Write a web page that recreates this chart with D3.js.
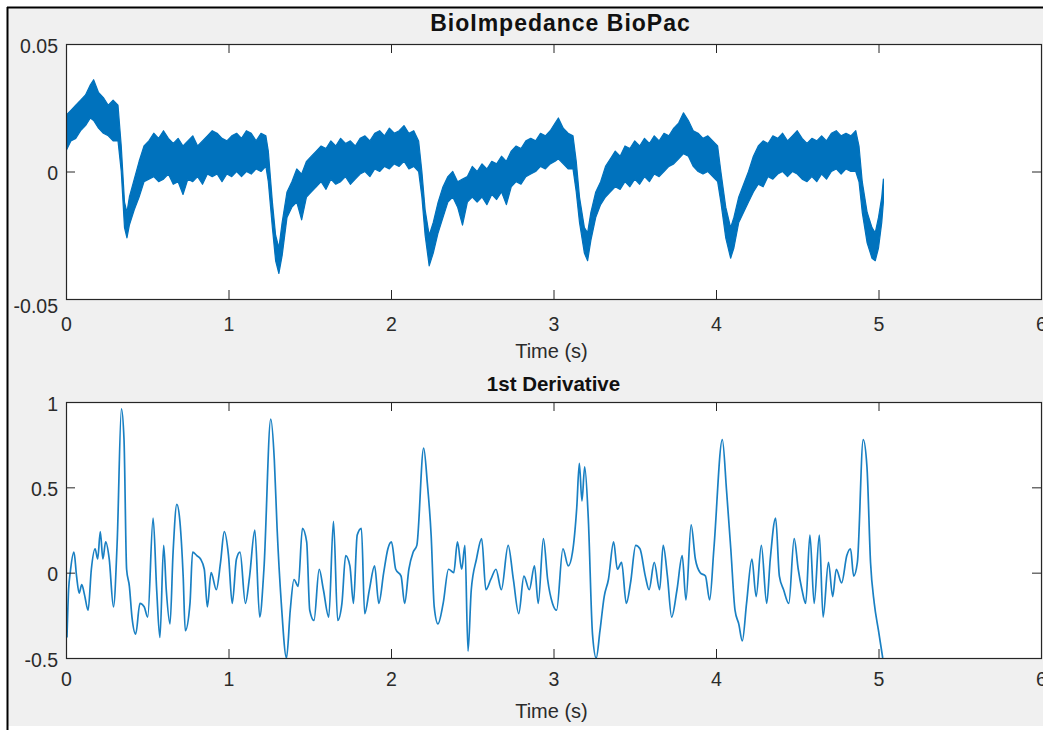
<!DOCTYPE html>
<html><head><meta charset="utf-8">
<script src="https://cdn.jsdelivr.net/npm/d3@7"></script>
<style>html,body{margin:0;padding:0;background:#fff;} svg{display:block;font-family:"Liberation Sans",Arial,Helvetica,sans-serif;}</style>
</head><body><svg id="chart" width="1043" height="730"></svg>
<script>
// ---------- data ----------
const xTicks = [0, 1, 2, 3, 4, 5, 6];
const xTickLabels = ["0", "1", "2", "3", "4", "5", "6"];
const bioYTicks = [-0.05, 0, 0.05];
const bioYTickLabels = ["-0.05", "0", "0.05"];
const derivYTicks = [-0.5, 0, 0.5, 1];
const derivYTickLabels = ["-0.5", "0", "0.5", "1"];
const titleTop = "BioImpedance BioPac";
const titleBottom = "1st Derivative";
const xLabel = "Time (s)";

// BioImpedance signal: noisy band, upper and lower envelope
const bioTime = [0.00,0.03,0.06,0.09,0.12,0.15,0.17,0.20,0.23,0.26,0.29,0.32,0.34,0.36,0.375,0.39,0.42,0.45,0.48,0.51,0.54,0.57,0.60,0.63,0.66,0.69,0.72,0.75,0.78,0.81,0.84,0.87,0.90,0.93,0.96,0.99,1.02,1.05,1.08,1.11,1.14,1.17,1.20,1.23,1.245,1.27,1.29,1.31,1.33,1.36,1.39,1.42,1.45,1.48,1.51,1.54,1.57,1.60,1.63,1.66,1.69,1.72,1.75,1.78,1.81,1.84,1.87,1.90,1.93,1.96,1.99,2.02,2.05,2.08,2.11,2.14,2.17,2.19,2.21,2.235,2.26,2.29,2.32,2.35,2.38,2.41,2.44,2.47,2.50,2.53,2.56,2.59,2.62,2.65,2.68,2.71,2.74,2.77,2.80,2.83,2.86,2.89,2.92,2.95,2.98,3.01,3.03,3.06,3.09,3.12,3.14,3.16,3.19,3.21,3.23,3.26,3.29,3.32,3.35,3.38,3.41,3.44,3.47,3.50,3.53,3.56,3.59,3.62,3.65,3.68,3.71,3.74,3.77,3.80,3.83,3.86,3.89,3.92,3.95,3.98,4.01,4.03,4.06,4.09,4.11,4.14,4.17,4.20,4.23,4.26,4.29,4.32,4.35,4.38,4.41,4.44,4.47,4.50,4.53,4.56,4.59,4.62,4.65,4.68,4.71,4.74,4.77,4.80,4.83,4.86,4.88,4.90,4.93,4.96,4.98,5.00,5.02,5.03];
const bioUpper = [0.022,0.024,0.026,0.028,0.030,0.034,0.036,0.031,0.029,0.026,0.028,0.026,0.010,-0.012,-0.016,-0.010,-0.003,0.004,0.010,0.012,0.015,0.013,0.016,0.013,0.011,0.013,0.010,0.012,0.014,0.010,0.012,0.014,0.016,0.015,0.013,0.012,0.014,0.015,0.013,0.016,0.015,0.012,0.015,0.014,0.008,-0.012,-0.025,-0.030,-0.020,-0.008,-0.004,0.001,-0.001,0.004,0.006,0.008,0.010,0.009,0.012,0.010,0.013,0.011,0.012,0.010,0.013,0.014,0.012,0.015,0.016,0.014,0.017,0.015,0.016,0.018,0.015,0.016,0.012,0.000,-0.015,-0.025,-0.020,-0.012,-0.006,-0.002,0.000,-0.004,-0.003,-0.002,0.002,0.000,0.003,0.001,0.004,0.003,0.006,0.004,0.008,0.010,0.009,0.012,0.013,0.012,0.015,0.014,0.016,0.019,0.021,0.017,0.015,0.014,0.004,-0.010,-0.022,-0.024,-0.016,-0.008,-0.004,0.002,0.005,0.008,0.006,0.010,0.009,0.012,0.010,0.013,0.011,0.014,0.012,0.015,0.014,0.017,0.019,0.023,0.020,0.016,0.015,0.013,0.014,0.012,0.010,0.000,-0.014,-0.022,-0.018,-0.010,-0.005,0.000,0.006,0.010,0.012,0.011,0.014,0.013,0.015,0.012,0.014,0.016,0.013,0.011,0.013,0.012,0.014,0.012,0.015,0.016,0.014,0.015,0.014,0.016,0.010,-0.004,-0.016,-0.022,-0.024,-0.018,-0.010,-0.003];
const bioLower = [0.008,0.012,0.013,0.016,0.018,0.021,0.020,0.017,0.015,0.014,0.012,0.012,0.000,-0.022,-0.026,-0.021,-0.015,-0.010,-0.004,-0.003,-0.002,-0.004,-0.003,-0.001,-0.005,-0.004,-0.009,-0.003,-0.004,-0.002,-0.005,-0.001,-0.002,-0.001,-0.004,-0.001,-0.002,0.000,-0.002,0.000,-0.001,0.001,0.000,0.002,-0.004,-0.022,-0.035,-0.040,-0.033,-0.018,-0.014,-0.012,-0.019,-0.010,-0.008,-0.006,-0.004,-0.007,-0.003,-0.005,-0.004,-0.002,-0.005,-0.003,-0.001,0.000,-0.002,0.001,0.000,0.002,0.001,0.003,0.002,0.004,0.001,0.002,0.000,-0.010,-0.025,-0.037,-0.032,-0.024,-0.018,-0.012,-0.010,-0.014,-0.021,-0.012,-0.010,-0.012,-0.010,-0.013,-0.009,-0.011,-0.008,-0.013,-0.006,-0.004,-0.005,-0.002,-0.001,0.000,0.002,0.001,0.003,0.004,0.005,0.003,0.001,0.001,-0.008,-0.020,-0.032,-0.035,-0.027,-0.018,-0.013,-0.010,-0.008,-0.006,-0.007,-0.004,-0.006,-0.003,-0.005,-0.002,-0.004,-0.001,-0.002,0.000,0.002,0.003,0.005,0.007,0.006,0.002,0.000,-0.001,0.000,-0.002,-0.004,-0.012,-0.026,-0.034,-0.030,-0.020,-0.016,-0.012,-0.008,-0.005,-0.006,-0.002,-0.003,-0.001,0.000,-0.002,0.000,-0.001,-0.003,-0.004,-0.002,-0.004,-0.001,-0.003,0.000,0.001,-0.001,0.001,0.000,0.000,-0.004,-0.016,-0.028,-0.034,-0.035,-0.030,-0.020,-0.012];

// 1st derivative signal
const derivTime = [0.006,0.016,0.026,0.049,0.065,0.081,0.097,0.114,0.136,0.156,0.179,0.195,0.211,0.227,0.244,0.266,0.292,0.315,0.341,0.357,0.373,0.390,0.406,0.429,0.455,0.481,0.503,0.536,0.558,0.578,0.601,0.617,0.640,0.659,0.682,0.701,0.721,0.734,0.763,0.779,0.805,0.828,0.851,0.870,0.893,0.925,0.951,0.974,1.000,1.023,1.049,1.071,1.104,1.130,1.162,1.192,1.218,1.260,1.282,1.299,1.325,1.357,1.380,1.403,1.429,1.455,1.481,1.500,1.526,1.558,1.584,1.617,1.646,1.672,1.698,1.721,1.747,1.769,1.792,1.818,1.838,1.867,1.899,1.925,1.955,1.981,2.003,2.029,2.062,2.084,2.110,2.136,2.159,2.201,2.224,2.247,2.266,2.289,2.321,2.354,2.386,2.409,2.435,2.455,2.474,2.494,2.526,2.558,2.584,2.614,2.646,2.679,2.721,2.753,2.786,2.818,2.851,2.883,2.906,2.938,2.964,2.994,3.019,3.058,3.091,3.117,3.143,3.159,3.175,3.192,3.214,3.240,3.263,3.286,3.312,3.338,3.370,3.393,3.419,3.448,3.474,3.506,3.532,3.565,3.588,3.620,3.653,3.675,3.701,3.727,3.760,3.792,3.815,3.847,3.873,3.903,3.935,3.961,3.987,4.039,4.065,4.091,4.117,4.140,4.162,4.188,4.221,4.247,4.279,4.312,4.334,4.367,4.390,4.416,4.448,4.481,4.506,4.529,4.552,4.578,4.604,4.636,4.659,4.692,4.718,4.740,4.773,4.805,4.828,4.847,4.870,4.906,4.929,4.951,4.974,5.000,5.026];
const derivValue = [-0.38,-0.10,0.00,0.12,-0.02,-0.12,-0.07,-0.13,-0.22,0.02,0.14,0.08,0.24,0.08,0.18,0.08,-0.20,0.18,0.96,0.78,0.02,-0.08,-0.26,-0.36,-0.18,-0.20,-0.26,0.32,-0.10,-0.38,0.16,-0.10,-0.30,0.12,0.40,0.30,-0.02,-0.34,-0.18,0.12,0.10,0.08,0.02,-0.20,0.00,-0.10,0.06,0.24,0.10,-0.18,0.08,0.12,-0.18,-0.02,0.25,-0.26,0.02,0.90,0.66,0.26,-0.18,-0.50,-0.22,-0.04,-0.08,0.26,0.18,-0.22,-0.28,0.02,-0.10,-0.26,0.30,-0.28,-0.18,0.10,0.04,-0.18,0.22,0.26,-0.24,-0.10,0.04,-0.18,0.00,0.14,0.18,0.02,-0.02,-0.18,0.02,0.12,0.16,0.73,0.52,0.22,-0.20,-0.30,-0.18,0.02,0.00,0.18,0.02,0.16,-0.46,-0.10,0.08,0.20,-0.10,-0.04,0.02,-0.10,0.16,-0.04,-0.24,-0.02,-0.10,0.04,-0.18,0.20,-0.04,-0.18,-0.22,0.14,0.04,0.12,0.38,0.64,0.42,0.62,0.32,-0.36,-0.50,-0.34,-0.14,-0.04,0.18,0.02,0.06,-0.18,-0.06,0.16,0.14,-0.02,-0.10,0.06,-0.10,0.16,-0.02,-0.26,-0.10,0.10,-0.16,0.28,0.08,0.00,-0.02,-0.16,0.14,0.78,0.48,0.14,-0.22,-0.30,-0.40,-0.18,0.08,-0.14,0.16,-0.18,0.08,0.32,-0.02,-0.10,-0.18,0.20,0.02,-0.10,-0.18,0.22,-0.18,0.22,-0.26,0.06,-0.14,0.02,-0.06,0.10,0.14,-0.02,0.06,0.78,0.62,0.06,-0.18,-0.34,-0.50];

// ---------- drawing ----------
const svg = d3.select("#chart");
const W = 1043, H = 730;
const LINE = "#0072BD", AX = "#262626", TXT = "#2b2b2b";

svg.append("rect").attr("width", W).attr("height", H).attr("fill", "#ffffff");
svg.append("rect").attr("x", 8).attr("y", 8).attr("width", W - 8).attr("height", 718).attr("fill", "#f0f0f0");
svg.append("line").attr("x1", 7).attr("x2", W).attr("y1", 7.5).attr("y2", 7.5).attr("stroke", "#000").attr("stroke-width", 2);
svg.append("line").attr("x1", 7.5).attr("x2", 7.5).attr("y1", 7).attr("y2", H).attr("stroke", "#000").attr("stroke-width", 2);

function panel(cfg) {
  const g = svg.append("g");
  const x = d3.scaleLinear().domain([0, 6]).range([cfg.left, cfg.right]);
  const y = d3.scaleLinear().domain(cfg.yDomain).range([cfg.bottom, cfg.top]);
  const id = "clip" + cfg.name;
  svg.append("clipPath").attr("id", id).append("rect")
    .attr("x", cfg.left).attr("y", cfg.top).attr("width", cfg.right - cfg.left).attr("height", cfg.bottom - cfg.top);
  g.append("rect").attr("x", cfg.left).attr("y", cfg.top)
    .attr("width", cfg.right - cfg.left).attr("height", cfg.bottom - cfg.top).attr("fill", "#fff");

  const plot = g.append("g").attr("clip-path", `url(#${id})`);
  cfg.draw(plot, x, y);

  const tk = 9;
  const ax = (axis, tr) => {
    const a = g.append("g").attr("transform", tr).call(axis);
    a.select(".domain").remove();
    a.selectAll(".tick line").attr("stroke", AX).attr("stroke-width", 1);
    a.selectAll("text").attr("fill", TXT).style("font-size", "19.5px").style("font-family", '"Liberation Sans",Arial,sans-serif');
    return a;
  };
  ax(d3.axisBottom(x).tickValues(xTicks).tickSize(-tk).tickPadding(cfg.xPad).tickFormat((d, i) => xTickLabels[i]),
     `translate(0,${cfg.bottom})`);
  ax(d3.axisTop(x).tickValues(xTicks).tickSize(-tk).tickFormat(""), `translate(0,${cfg.top})`);
  const yl = ax(d3.axisLeft(y).tickValues(cfg.yTicks).tickSize(-tk).tickPadding(8).tickFormat((d, i) => cfg.yLabels[i]),
     `translate(${cfg.left},0)`);
  yl.selectAll("text").attr("dy", "0.42em");
  if (cfg.lowLabelShift) {
    yl.selectAll(".tick text").filter(d => d === cfg.yDomain[0]).attr("y", cfg.lowLabelShift);
  }
  ax(d3.axisRight(y).tickValues(cfg.yTicks).tickSize(-tk).tickFormat(""), `translate(${cfg.right},0)`);

  g.append("rect").attr("x", cfg.left + 0.5).attr("y", cfg.top + 0.5)
    .attr("width", cfg.right - cfg.left).attr("height", cfg.bottom - cfg.top)
    .attr("fill", "none").attr("stroke", AX).attr("stroke-width", 1.2);

  g.append("text").attr("x", (cfg.left + cfg.right) / 2 + cfg.titleDx).attr("y", cfg.titleY)
    .attr("text-anchor", "middle").attr("fill", "#111").style("font-weight", "bold")
    .style("font-size", cfg.titleSize + "px").style("letter-spacing", cfg.titleSpacing + "px").text(cfg.title);
  g.append("text").attr("x", (cfg.left + cfg.right) / 2 - 2).attr("y", cfg.xlabelY)
    .attr("text-anchor", "middle").attr("fill", TXT).style("font-size", "20px").text(xLabel);
}

panel({
  name: "top", left: 66, right: 1041, top: 44, bottom: 299,
  yDomain: [-0.05, 0.05], yTicks: bioYTicks, yLabels: bioYTickLabels, xPad: 18, lowLabelShift: 5,
  title: titleTop, titleY: 31, titleSize: 23, titleSpacing: 1, titleDx: 7, xlabelY: 358,
  draw: (p, x, y) => {
    const idx = d3.range(bioTime.length);
    const area = d3.area().x(i => x(bioTime[i])).y0(i => y(bioLower[i])).y1(i => y(bioUpper[i]));
    p.append("path").attr("d", area(idx)).attr("fill", LINE).attr("stroke", LINE).attr("stroke-width", 1.2).attr("stroke-linejoin", "round");
  }
});

panel({
  name: "bot", left: 66, right: 1041, top: 402, bottom: 658,
  yDomain: [-0.5, 1], yTicks: derivYTicks, yLabels: derivYTickLabels, xPad: 14,
  title: titleBottom, titleY: 391, titleSize: 20.5, titleSpacing: 0, titleDx: 0, xlabelY: 718,
  draw: (p, x, y) => {
    const idx = d3.range(derivTime.length);
    const line = d3.line().x(i => x(derivTime[i])).y(i => y(derivValue[i])).curve(d3.curveMonotoneX);
    p.append("path").attr("d", line(idx)).attr("fill", "none").attr("stroke", LINE)
      .attr("stroke-width", 1.7).attr("stroke-linejoin", "round").attr("stroke-opacity", 0.9);
  }
});
</script>
</body></html>
